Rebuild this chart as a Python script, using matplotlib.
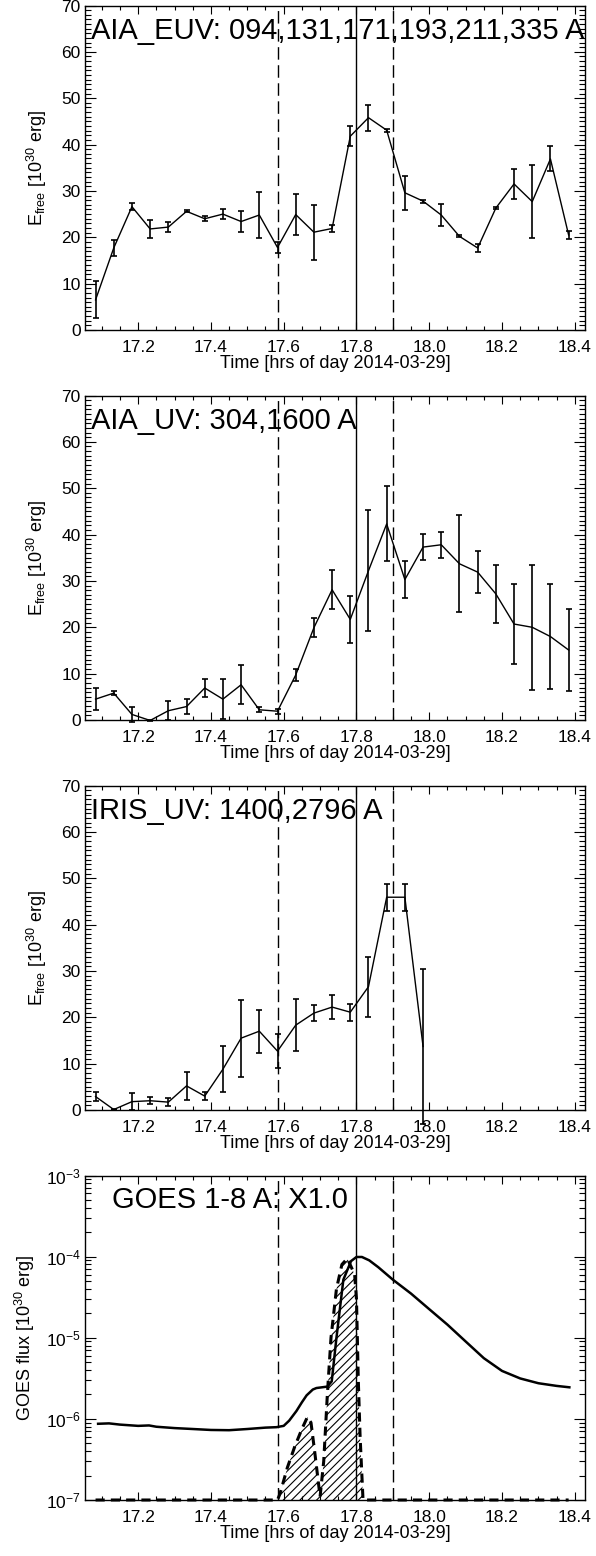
import matplotlib
matplotlib.use("Agg")
import matplotlib.pyplot as plt
from matplotlib.ticker import MultipleLocator, LogLocator, NullFormatter

plt.rcParams['font.family'] = ['Liberation Sans', 'DejaVu Sans']
plt.rcParams['mathtext.fontset'] = 'custom'
plt.rcParams['mathtext.rm'] = 'Liberation Sans'
plt.rcParams['mathtext.it'] = 'Liberation Sans:italic'
plt.rcParams['hatch.linewidth'] = 0.8

# time of each 3-min sample [hrs of day]
times = [17.083, 17.133, 17.183, 17.233, 17.283, 17.333, 17.383, 17.433, 17.483,
         17.533, 17.583, 17.633, 17.683, 17.733, 17.783, 17.833, 17.883, 17.933,
         17.983, 18.033, 18.083, 18.133, 18.183, 18.233, 18.283, 18.333, 18.383]

euv_e = [6.5, 17.7, 26.6, 21.8, 22.2, 25.6, 24.0, 25.0, 23.4, 24.8, 17.8, 24.9, 21.1,
         21.9, 41.8, 45.8, 43.1, 29.6, 27.8, 24.8, 20.2, 17.7, 26.3, 31.5, 27.7, 36.9, 20.5]
euv_err = [4.0, 1.7, 0.8, 2.0, 1.1, 0.2, 0.5, 1.1, 2.2, 4.9, 1.1, 4.5, 5.9,
           0.7, 2.2, 2.8, 0.3, 3.7, 0.3, 2.4, 0.2, 0.8, 0.2, 3.2, 7.9, 2.7, 0.8]

uv_e = [4.5, 5.8, 1.2, -0.1, 2.0, 2.9, 6.9, 4.5, 7.6, 2.2, 1.9, 9.7, 19.9,
        28.1, 21.7, 32.2, 42.3, 30.3, 37.3, 37.8, 33.7, 31.9, 27.2, 20.7, 20.0, 18.0, 15.1]
uv_err = [2.3, 0.5, 1.6, 0.2, 2.0, 1.7, 2.0, 4.3, 4.2, 0.5, 0.5, 1.3, 2.1,
          4.2, 5.0, 13.1, 8.1, 3.9, 2.8, 2.8, 10.5, 4.6, 6.2, 8.6, 13.5, 11.3, 8.8]

iris_e = [2.9, 0.1, 1.8, 2.0, 1.7, 5.2, 3.0, 8.8, 15.5, 17.0, 12.7, 18.3, 20.9,
          22.2, 21.1, 26.6, 45.9, 45.9, 13.7]
iris_err = [1.0, 0.2, 1.8, 0.8, 0.8, 3.0, 0.8, 5.0, 8.3, 4.6, 3.6, 5.6, 1.8,
            2.5, 1.8, 6.5, 2.9, 2.9, 16.7]

goes_t = [17.09, 17.12, 17.15, 17.20, 17.23, 17.25, 17.30, 17.35, 17.40, 17.45, 17.50,
          17.55, 17.58, 17.60, 17.615, 17.635, 17.65, 17.663, 17.68, 17.69, 17.72,
          17.732, 17.745, 17.764, 17.785, 17.80, 17.815, 17.835, 17.86, 17.90, 17.95,
          18.00, 18.05, 18.10, 18.15, 18.20, 18.25, 18.30, 18.35, 18.385]
goes_flux = [8.7e-7, 8.8e-7, 8.5e-7, 8.2e-7, 8.3e-7, 8.0e-7, 7.7e-7, 7.5e-7, 7.3e-7,
             7.25e-7, 7.5e-7, 7.8e-7, 7.9e-7, 8.2e-7, 9.5e-7, 1.25e-6, 1.6e-6, 1.95e-6,
             2.3e-6, 2.4e-6, 2.5e-6, 2.9e-6, 1.0e-5, 5.2e-5, 8.8e-5, 9.9e-5, 9.9e-5,
             9.0e-5, 7.4e-5, 5.2e-5, 3.5e-5, 2.25e-5, 1.45e-5, 9.0e-6, 5.6e-6, 3.9e-6,
             3.15e-6, 2.75e-6, 2.55e-6, 2.45e-6]

# time derivative of GOES flux (floored at plot bottom)
deriv_t = [17.083, 17.583, 17.59, 17.61, 17.63, 17.65, 17.665, 17.675, 17.685, 17.70,
           17.71, 17.72, 17.73, 17.745, 17.76, 17.775, 17.795, 17.80, 17.805, 17.81,
           17.818, 18.383]
deriv_v = [1e-7, 1e-7, 1.2e-7, 2.5e-7, 4.5e-7, 7.5e-7, 1.05e-6, 9e-7, 4e-7, 1.1e-7,
           3e-7, 2e-6, 1e-5, 4e-5, 8e-5, 9.5e-5, 6e-5, 3e-5, 3e-6, 6e-7, 1e-7, 1e-7]

t_start, t_peak, t_end = 17.583, 17.80, 17.90

titles = ["AIA_EUV: 094,131,171,193,211,335 A", "AIA_UV: 304,1600 A",
          "IRIS_UV: 1400,2796 A"]
series = [(euv_e, euv_err), (uv_e, uv_err), (iris_e, iris_err)]

fig = plt.figure(figsize=(5.96, 15.56), dpi=100)
H = 1556.0
left, width = 85 / 596, 500 / 596
bottoms = [330, 720, 1110, 1500]
height = 324.5 / H


def style_axis(ax):
    ax.set_xlim(17.054, 18.428)
    ax.xaxis.set_major_locator(MultipleLocator(0.2))
    ax.xaxis.set_minor_locator(MultipleLocator(0.05))
    ax.xaxis.set_major_formatter(plt.FormatStrFormatter('%.1f'))
    ax.tick_params(which='both', direction='in', top=True, right=True,
                   labelsize=12.5, width=0.8)
    ax.tick_params(axis='x', which='major', length=6, pad=7)
    ax.tick_params(axis='x', which='minor', length=3)
    ax.tick_params(axis='y', which='major', length=8, pad=3)
    ax.tick_params(axis='y', which='minor', length=4)
    ax.set_xlabel("Time [hrs of day 2014-03-29]", fontsize=13, labelpad=0)
    for s in ax.spines.values():
        s.set_linewidth(1.0)
    ax.axvline(t_start, color='k', lw=1, ls=(0, (9, 4)))
    ax.axvline(t_peak, color='k', lw=1)
    ax.axvline(t_end, color='k', lw=1, ls=(0, (9, 4)))


for k in range(3):
    ax = fig.add_axes([left, 1 - bottoms[k] / H, width, height])
    vals, errs = series[k]
    tt = times[:len(vals)]
    eb = ax.errorbar(tt, vals, yerr=errs, color='k', lw=1, elinewidth=1.2,
                     capsize=2.5, capthick=1.2)
    for art in eb.lines[1] + eb.lines[2]:
        art.set_clip_on(False)
    ax.set_ylim(0, 70)
    ax.yaxis.set_major_locator(MultipleLocator(10))
    ax.yaxis.set_minor_locator(MultipleLocator(1))
    style_axis(ax)
    ax.set_ylabel(r"E$_{\rm free}$ [10$^{30}$ erg]", fontsize=13, labelpad=9)
    ax.text(0.012, 0.897, titles[k], transform=ax.transAxes, fontsize=21,
            va='baseline', ha='left')

ax = fig.add_axes([left, 1 - bottoms[3] / H, width, height])
ax.set_yscale('log')
ax.set_ylim(1e-7, 1e-3)
ax.yaxis.set_minor_locator(LogLocator(subs=range(2, 10)))
ax.yaxis.set_minor_formatter(NullFormatter())
ax.fill_between(deriv_t, 1e-7, deriv_v, facecolor='none', edgecolor='k',
                hatch='////', linewidth=0)
ax.plot(deriv_t, deriv_v, color='k', lw=2.2, ls=(0, (3, 2)), clip_on=False)
ax.plot(goes_t, goes_flux, color='k', lw=1.8)
style_axis(ax)
ax.set_ylabel(r"GOES flux [10$^{30}$ erg]", fontsize=13, labelpad=6)
ax.text(0.054, 0.90, "GOES 1-8 A: X1.0", transform=ax.transAxes, fontsize=21,
        va='baseline', ha='left')

fig.savefig("out.png", dpi=100)
